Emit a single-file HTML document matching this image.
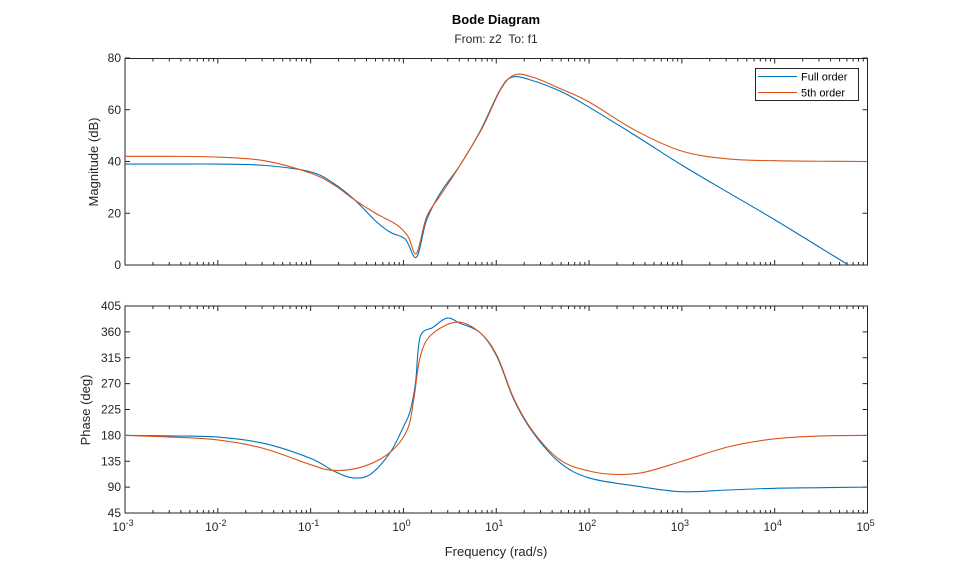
<!DOCTYPE html>
<html><head><meta charset="utf-8"><style>
body{margin:0;background:#fff;}
svg{display:block;font-family:"Liberation Sans",Arial,sans-serif;}
</style></head><body>
<svg id="s" width="959" height="577" xmlns="http://www.w3.org/2000/svg">
<rect width="959" height="577" fill="#fff"/>
<defs><clipPath id="c1"><rect x="125" y="58.5" width="742.5" height="206.5"/></clipPath><clipPath id="c2"><rect x="125" y="306" width="742.5" height="207"/></clipPath></defs>
<text x="496" y="24" text-anchor="middle" font-size="13" font-weight="bold" fill="#000">Bode Diagram</text>
<text x="496" y="43" text-anchor="middle" font-size="12" fill="#262626">From: z2&#160;&#160;To: f1</text>
<text x="496" y="556" text-anchor="middle" font-size="13" fill="#262626">Frequency (rad/s)</text>
<text transform="translate(98,162) rotate(-90)" text-anchor="middle" font-size="13" fill="#262626">Magnitude (dB)</text>
<text transform="translate(90,410) rotate(-90)" text-anchor="middle" font-size="13" fill="#262626">Phase (deg)</text>
<g id="g"></g>
<rect x="755.5" y="68.5" width="103" height="32" fill="#fff" stroke="#262626" stroke-width="1"/>
<line x1="758" y1="76.5" x2="797" y2="76.5" stroke="#0072BD"/>
<line x1="758" y1="92.5" x2="797" y2="92.5" stroke="#D95319"/>
<text x="801" y="80.5" font-size="11" fill="#000">Full order</text>
<text x="801" y="96.5" font-size="11" fill="#000">5th order</text>
</svg>
<script>
const L=125,R=867.5,D=(R-L)/8;
const X=l=>L+(l+3)*D;
const ym=m=>265-m*207/80, yp=p=>513-(p-45)*207/360;
const g=document.getElementById('g');let h='';
function axes(t,b,yt,yl){
 h+=`<rect x="${L}" y="${t}" width="${R-L}" height="${b-t}" fill="none" stroke="#262626" stroke-width="1"/>`;
 for(let k=-3;k<=5;k++){const x=X(k);
  h+=`<line x1="${x}" y1="${t}" x2="${x}" y2="${t+5}" stroke="#262626"/><line x1="${x}" y1="${b}" x2="${x}" y2="${b-5}" stroke="#262626"/>`;
  if(k<5)for(let m=2;m<10;m++){const xx=X(k+Math.log10(m));
   h+=`<line x1="${xx}" y1="${t}" x2="${xx}" y2="${t+3}" stroke="#262626"/><line x1="${xx}" y1="${b}" x2="${xx}" y2="${b-3}" stroke="#262626"/>`;}
 }
 yt.forEach((v,i)=>{const y=yl(v);
  h+=`<line x1="${L}" y1="${y}" x2="${L+5}" y2="${y}" stroke="#262626"/><line x1="${R}" y1="${y}" x2="${R-5}" y2="${y}" stroke="#262626"/>`;
  h+=`<text x="${L-4}" y="${y+4}" text-anchor="end" font-size="12" fill="#262626">${v}</text>`;});
}
axes(58.5,265,[0,20,40,60,80],ym);
axes(306,513,[45,90,135,180,225,270,315,360,405],yp);
for(let k=-3;k<=5;k++){h+=`<text x="${X(k)-2}" y="531" text-anchor="middle" font-size="12" fill="#262626">10<tspan dy="-5" font-size="9">${k}</tspan></text>`;}
function path(pts,yf,c,clip){
 const P=pts.map(p=>[X(p[0]),yf(p[1])]);let d=`M${P[0][0]},${P[0][1]}`;
 for(let i=0;i<P.length-1;i++){const p0=P[i-1]||P[i],p1=P[i],p2=P[i+1],p3=P[i+2]||P[i+1];
  d+=`C${p1[0]+(p2[0]-p0[0])/6},${p1[1]+(p2[1]-p0[1])/6} ${p2[0]-(p3[0]-p1[0])/6},${p2[1]-(p3[1]-p1[1])/6} ${p2[0]},${p2[1]}`;}
 h+=`<path d="${d}" fill="none" stroke="${c}" stroke-width="1.1" clip-path="url(#${clip})"/>`;
}
const bm=[[-3,39],[-2.5,39],[-2,39],[-1.5,38.5],[-1,36],[-0.75,31.5],[-0.52,25],[-0.3,17],[-0.14,12.6],[0.02,10],[0.14,3],[0.25,17.4],[0.4,28],[0.61,38.6],[0.83,52],[1.04,67.6],[1.17,72.6],[1.37,71.5],[1.7,67],[2,61],[2.5,50],[3,38.6],[3.5,28],[4,17.5],[4.5,6.5],[5,-4.5]];
const om=[[-3,42],[-2.5,42],[-2,41.7],[-1.5,40.3],[-1,35.5],[-0.75,31],[-0.52,25],[-0.3,20],[-0.07,15.5],[0.05,11],[0.14,4.5],[0.25,18.6],[0.4,27],[0.6,38],[0.85,53],[1.05,68],[1.2,73.5],[1.4,72.5],[1.7,68],[2,63],[2.5,52],[3,44],[3.5,41],[4,40.3],[4.5,40.1],[5,40]];
const bp=[[-3,180],[-2.5,179],[-2,177],[-1.5,166],[-1,140],[-0.75,118],[-0.54,106],[-0.35,113],[-0.14,151],[0,195],[0.07,221],[0.13,271],[0.18,351],[0.32,368],[0.47,384],[0.61,375],[0.83,358],[1.01,316],[1.19,242],[1.4,184],[1.69,132],[2,106],[2.5,92],[3,82],[3.5,85],[4,88],[4.5,89],[5,90]];
const op=[[-3,180],[-2.5,177],[-2,172],[-1.5,157],[-1,129],[-0.75,119],[-0.43,126],[-0.14,151],[0.04,189],[0.11,241],[0.18,316],[0.3,355],[0.58,377],[0.83,358],[1.01,318],[1.19,244],[1.4,186],[1.69,137],[2,118],[2.3,112],[2.6,116],[3,135],[3.5,160],[4,174],[4.5,179],[5,180]];
path(bm,ym,'#0072BD','c1');path(om,ym,'#D95319','c1');
path(bp,yp,'#0072BD','c2');path(op,yp,'#D95319','c2');
g.innerHTML=h;
</script>
</body></html>
